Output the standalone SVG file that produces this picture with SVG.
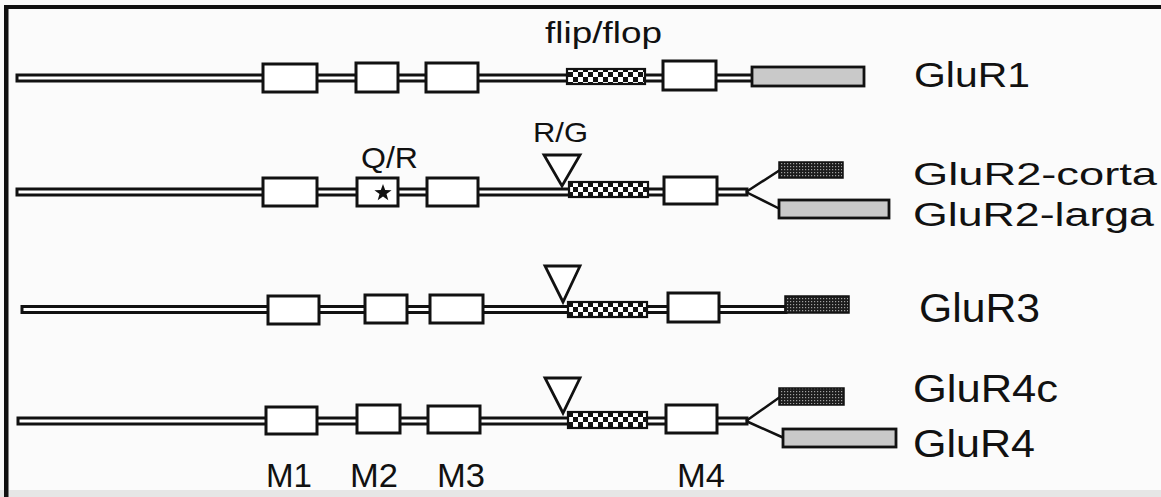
<svg xmlns="http://www.w3.org/2000/svg" width="1161" height="497" viewBox="0 0 1161 497">
<defs>
<pattern id="chk" x="568" y="2" width="10" height="10" patternUnits="userSpaceOnUse">
<rect width="10" height="10" fill="#fff"/>
<rect width="5" height="5" fill="#111"/>
<rect x="5" y="5" width="5" height="5" fill="#111"/>
</pattern>
<pattern id="dots" width="3" height="3" patternUnits="userSpaceOnUse">
<rect width="3" height="3" fill="#1c1c1c"/>
<rect x="1" y="1" width="1.2" height="1.2" fill="#a0a0a0"/>
</pattern>
<style>
.tube{fill:#fff;stroke:#111;stroke-width:3}
.box{fill:#fff;stroke:#111;stroke-width:3}
.chk{fill:url(#chk);stroke:#111;stroke-width:2.2}
.dark{fill:url(#dots);stroke:#111;stroke-width:1.5}
.gray{fill:#c9c9c9;stroke:#111;stroke-width:2.8}
.tri{fill:#fff;stroke:#111;stroke-width:2.8;stroke-linejoin:miter}
.br{fill:none;stroke:#111;stroke-width:2.5}
text{font-family:"Liberation Sans",Arial,sans-serif;fill:#111}
</style>
</defs>
<rect width="1161" height="497" fill="#fbfbfb"/>
<rect x="0" y="490" width="1161" height="7" fill="#e6e6e6"/>
<g id="frame">
<rect x="4" y="5" width="1157" height="4" fill="#111"/>
<rect x="4" y="5" width="4.5" height="492" fill="#111"/>
</g>

<g id="connectors">
<rect class="tube" x="17" y="75" width="736" height="6"/>
<rect class="tube" x="17" y="189" width="730" height="6"/>
<path class="br" d="M746,192 L780,170 M746,192 L780,209"/>
<rect class="tube" x="22" y="306.5" width="764" height="6"/>
<rect class="tube" x="18" y="418" width="729" height="6"/>
<path class="br" d="M746,421 L780,397 M746,421 L784,438"/>
</g>

<g id="GluR1">
<rect class="box" x="263" y="64" width="54" height="28"/>
<rect class="box" x="356" y="63" width="42" height="29"/>
<rect class="box" x="426" y="63" width="52" height="29"/>
<rect class="chk" x="567" y="69" width="78" height="15"/>
<rect class="box" x="663" y="61" width="53" height="29"/>
<rect class="gray" x="752" y="67" width="112" height="19"/>
<text x="914" y="87" font-size="35" textLength="116" lengthAdjust="spacingAndGlyphs">GluR1</text>
</g>

<g id="GluR2">
<rect class="box" x="263" y="178" width="54" height="28"/>
<rect class="box" x="357" y="178" width="41" height="28"/>
<path d="M383,184 L385.2,190.1 L391.6,190.2 L386.5,194.1 L388.3,200.3 L383,196.6 L377.7,200.3 L379.5,194.1 L374.4,190.2 L380.8,190.1 Z" fill="#111"/>
<rect class="box" x="427" y="178" width="51" height="28"/>
<rect class="chk" x="569" y="182" width="79" height="15"/>
<polygon class="tri" points="544,155 580,155 562,186"/>
<rect class="box" x="664" y="177" width="53" height="27"/>
<rect class="dark" x="779" y="162" width="64" height="16"/>
<rect class="gray" x="779" y="200" width="110" height="18"/>
<text x="361" y="168" font-size="29" textLength="57" lengthAdjust="spacingAndGlyphs">Q/R</text>
<text x="533" y="142" font-size="28" textLength="55" lengthAdjust="spacingAndGlyphs">R/G</text>
<text x="913" y="185" font-size="32" textLength="244" lengthAdjust="spacingAndGlyphs">GluR2-corta</text>
<text x="913" y="226" font-size="34" textLength="241" lengthAdjust="spacingAndGlyphs">GluR2-larga</text>
</g>

<g id="GluR3">
<rect class="box" x="268" y="296" width="51" height="28"/>
<rect class="box" x="365" y="295" width="42" height="28"/>
<rect class="box" x="430" y="295" width="53" height="28"/>
<rect class="chk" x="568" y="302" width="79" height="15"/>
<polygon class="tri" points="545,266 580,266 563,302"/>
<rect class="box" x="668" y="293" width="51" height="29"/>
<rect class="dark" x="785" y="296" width="64" height="17"/>
<text x="919" y="322" font-size="40" textLength="121" lengthAdjust="spacingAndGlyphs">GluR3</text>
</g>

<g id="GluR4">
<rect class="box" x="266" y="407" width="51" height="27"/>
<rect class="box" x="357" y="405" width="43" height="28"/>
<rect class="box" x="428" y="406" width="52" height="27"/>
<rect class="chk" x="568" y="412" width="79" height="16"/>
<polygon class="tri" points="545,378 580,378 563,413"/>
<rect class="box" x="666" y="405" width="51" height="28"/>
<rect class="dark" x="779" y="388" width="65" height="17"/>
<rect class="gray" x="783" y="429" width="113" height="18"/>
<text x="913" y="402" font-size="38" textLength="145" lengthAdjust="spacingAndGlyphs">GluR4c</text>
<text x="913" y="457" font-size="39" textLength="122" lengthAdjust="spacingAndGlyphs">GluR4</text>
</g>

<g id="labels">
<text x="545" y="43" font-size="30" textLength="117" lengthAdjust="spacingAndGlyphs">flip/flop</text>
<text x="266" y="487" font-size="33" textLength="46" lengthAdjust="spacingAndGlyphs">M1</text>
<text x="350" y="487" font-size="33" textLength="48" lengthAdjust="spacingAndGlyphs">M2</text>
<text x="437" y="487" font-size="33" textLength="48" lengthAdjust="spacingAndGlyphs">M3</text>
<text x="677" y="487" font-size="33" textLength="48" lengthAdjust="spacingAndGlyphs">M4</text>
</g>
</svg>
